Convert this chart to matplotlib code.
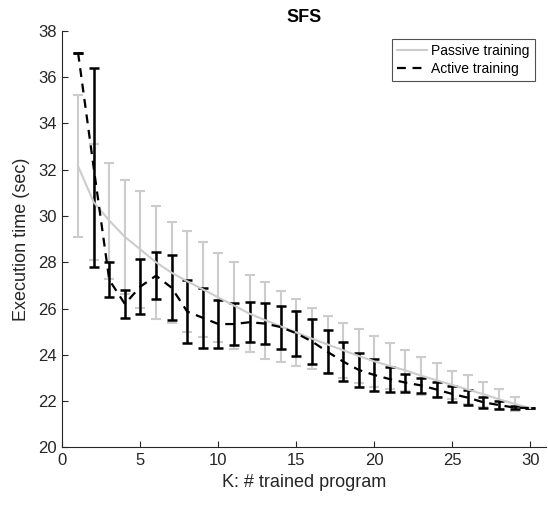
import matplotlib
matplotlib.use("Agg")
import matplotlib.pyplot as plt
from matplotlib.lines import Line2D

# K values (number of trained programs)
k = list(range(1, 31))

# passive training: mean and half-width of error bar
passive_mean = [32.15, 30.6, 29.8, 29.1, 28.55, 28.0, 27.55, 27.18, 26.83, 26.48,
                26.13, 25.78, 25.5, 25.23, 24.97, 24.7, 24.45, 24.2, 23.95, 23.72,
                23.52, 23.33, 23.1, 22.9, 22.7, 22.5, 22.3, 22.08, 21.88, 21.7]
passive_err = [3.07, 2.5, 2.51, 2.45, 2.54, 2.44, 2.17, 2.18, 2.06, 1.93,
               1.89, 1.67, 1.66, 1.54, 1.45, 1.33, 1.24, 1.19, 1.15, 1.11,
               0.98, 0.88, 0.82, 0.73, 0.6, 0.63, 0.54, 0.44, 0.31, 0.0]

# active training
active_mean = [37.05, 32.1, 27.24, 26.2, 26.95, 27.42, 26.9, 25.87, 25.6, 25.33,
               25.33, 25.41, 25.35, 25.2, 24.93, 24.58, 24.13, 23.71, 23.35, 23.13,
               22.95, 22.8, 22.68, 22.5, 22.31, 22.15, 21.95, 21.83, 21.72, 21.7]
active_err = [0.0, 4.29, 0.76, 0.6, 1.2, 1.01, 1.41, 1.37, 1.3, 1.02,
              0.92, 0.87, 0.87, 0.93, 0.97, 0.98, 0.93, 0.83, 0.73, 0.69,
              0.54, 0.39, 0.34, 0.34, 0.34, 0.33, 0.24, 0.19, 0.07, 0.0]

plt.rcParams['font.family'] = ['Liberation Sans', 'DejaVu Sans']

fig = plt.figure(figsize=(5.48, 5.05), dpi=100)
ax = fig.add_axes([0.114, 0.114, 0.882, 0.825])

grey = (0.8, 0.8, 0.8)
dark = (0.15, 0.15, 0.15)
dash = (0, (4, 3))
ax.errorbar(k, passive_mean, yerr=passive_err, color=grey, ecolor=grey,
            lw=1.5, elinewidth=1.5, capsize=3.5, capthick=1.5)
ax.errorbar(k, active_mean, yerr=active_err, color='black', ecolor='black',
            lw=1.6, ls=dash, elinewidth=1.8, capsize=3.5, capthick=1.8)

ax.set_xlim(0, 31)
ax.set_ylim(20, 38)
ax.set_xticks(range(0, 31, 5))
ax.set_yticks(range(20, 39, 2))
for s in ['top', 'right']:
    ax.spines[s].set_visible(False)
for s in ['left', 'bottom']:
    ax.spines[s].set_color(dark)
ax.tick_params(direction='in', length=4, labelsize=12, colors=dark, pad=4)

ax.set_xlabel('K: # trained program', fontsize=13, color=dark, labelpad=4)
ax.set_ylabel('Execution time (sec)', fontsize=13, color=dark, labelpad=6)
ax.set_title('SFS', fontsize=13, fontweight='bold', pad=6)

handles = [Line2D([], [], color=grey, lw=1.5),
           Line2D([], [], color='black', lw=1.6, ls=dash)]
leg = ax.legend(handles, ['Passive training', 'Active training'],
                loc='upper right', bbox_to_anchor=(0.977, 0.98), fontsize=10,
                frameon=True, fancybox=False, handlelength=2.2,
                borderpad=0.35, labelspacing=0.3, handletextpad=0.3,
                borderaxespad=0)
leg.get_frame().set_edgecolor(dark)
leg.get_frame().set_linewidth(0.8)

fig.savefig('out.png', dpi=100)
